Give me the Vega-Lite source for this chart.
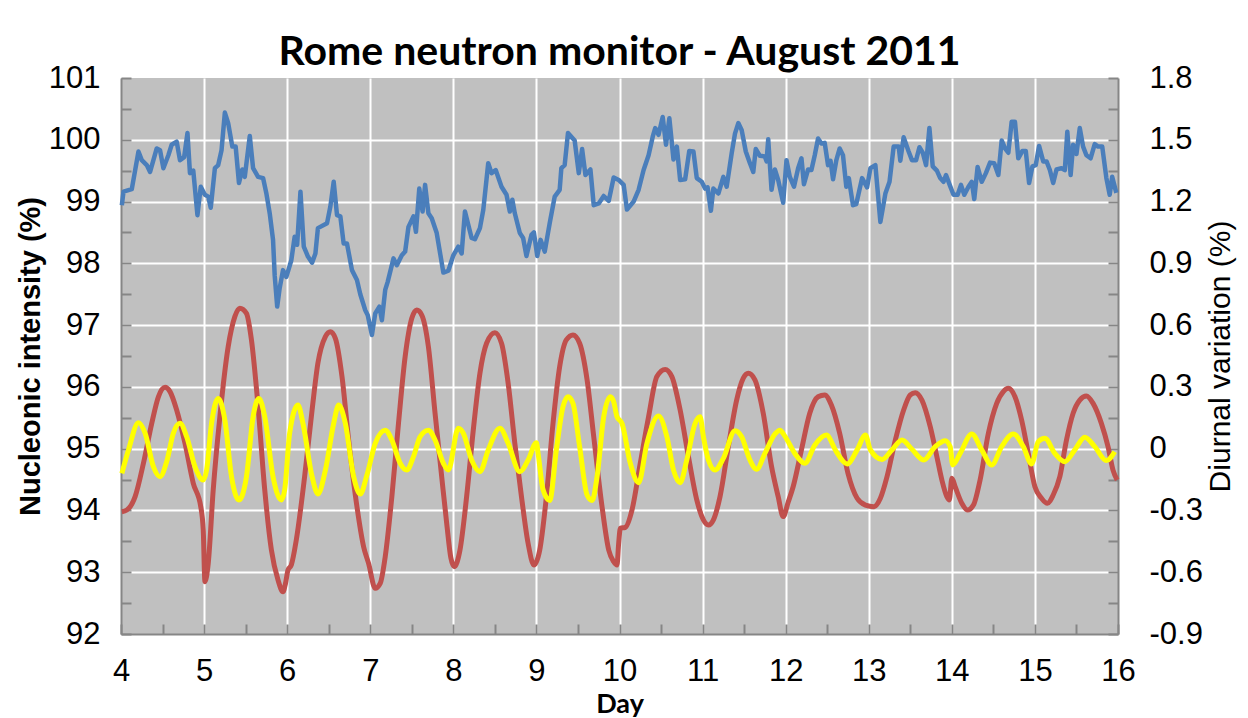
{
  "$schema": "https://vega.github.io/schema/vega-lite/v6.json",
  "width": 997,
  "height": 556,
  "autosize": {"type": "none"},
  "padding": {"left": 121, "top": 78, "right": 130, "bottom": 84},
  "background": "white",
  "config": {
    "view": {"fill": "#C0C0C0", "stroke": null},
    "axis": {"labelFont": "Liberation Sans", "labelColor": "black", "domainColor": "#868686", "domainWidth": 2, "tickColor": "#868686", "tickWidth": 2, "gridColor": "white", "gridWidth": 2, "labelOverlap": false, "labelFlush": false}
  },
  "title": {"text": "Rome neutron monitor - August 2011", "font": "Lato", "fontWeight": "bold", "fontSize": 41, "color": "black", "anchor": "middle", "frame": "group", "offset": 4, "dy": 16},
  "data": {"values": [
{"s":"b","d":4.01,"v":98.94},{"s":"b","d":4.03,"v":99.16},{"s":"b","d":4.13,"v":99.2},{"s":"b","d":4.21,"v":99.81},{"s":"b","d":4.25,"v":99.67},{"s":"b","d":4.31,"v":99.59},{"s":"b","d":4.35,"v":99.48},{"s":"b","d":4.43,"v":99.86},{"s":"b","d":4.47,"v":99.83},{"s":"b","d":4.51,"v":99.54},{"s":"b","d":4.57,"v":99.75},{"s":"b","d":4.61,"v":99.92},{"s":"b","d":4.67,"v":99.97},{"s":"b","d":4.71,"v":99.67},{"s":"b","d":4.76,"v":99.72},{"s":"b","d":4.80,"v":100.11},{"s":"b","d":4.83,"v":99.46},{"s":"b","d":4.87,"v":99.5},{"s":"b","d":4.92,"v":98.78},{"s":"b","d":4.96,"v":99.24},{"s":"b","d":5.01,"v":99.11},{"s":"b","d":5.05,"v":99.08},{"s":"b","d":5.08,"v":98.9},{"s":"b","d":5.13,"v":99.54},{"s":"b","d":5.17,"v":99.59},{"s":"b","d":5.21,"v":99.83},{"s":"b","d":5.25,"v":100.44},{"s":"b","d":5.29,"v":100.27},{"s":"b","d":5.34,"v":99.89},{"s":"b","d":5.38,"v":99.89},{"s":"b","d":5.42,"v":99.3},{"s":"b","d":5.46,"v":99.52},{"s":"b","d":5.49,"v":99.4},{"s":"b","d":5.55,"v":100.06},{"s":"b","d":5.59,"v":99.54},{"s":"b","d":5.65,"v":99.4},{"s":"b","d":5.71,"v":99.38},{"s":"b","d":5.75,"v":99.13},{"s":"b","d":5.79,"v":98.81},{"s":"b","d":5.83,"v":98.38},{"s":"b","d":5.85,"v":97.8},{"s":"b","d":5.88,"v":97.3},{"s":"b","d":5.91,"v":97.6},{"s":"b","d":5.95,"v":97.89},{"s":"b","d":5.99,"v":97.78},{"s":"b","d":6.05,"v":98.05},{"s":"b","d":6.09,"v":98.43},{"s":"b","d":6.12,"v":98.3},{"s":"b","d":6.16,"v":99.16},{"s":"b","d":6.20,"v":98.27},{"s":"b","d":6.25,"v":98.11},{"s":"b","d":6.30,"v":98.01},{"s":"b","d":6.34,"v":98.16},{"s":"b","d":6.37,"v":98.57},{"s":"b","d":6.48,"v":98.65},{"s":"b","d":6.52,"v":98.92},{"s":"b","d":6.56,"v":99.32},{"s":"b","d":6.60,"v":98.78},{"s":"b","d":6.64,"v":98.76},{"s":"b","d":6.68,"v":98.32},{"s":"b","d":6.72,"v":98.32},{"s":"b","d":6.78,"v":97.89},{"s":"b","d":6.84,"v":97.73},{"s":"b","d":6.88,"v":97.5},{"s":"b","d":6.94,"v":97.24},{"s":"b","d":6.97,"v":97.16},{"s":"b","d":7.02,"v":96.84},{"s":"b","d":7.06,"v":97.19},{"s":"b","d":7.11,"v":97.3},{"s":"b","d":7.14,"v":97.08},{"s":"b","d":7.18,"v":97.57},{"s":"b","d":7.21,"v":97.7},{"s":"b","d":7.28,"v":98.08},{"s":"b","d":7.32,"v":97.97},{"s":"b","d":7.38,"v":98.13},{"s":"b","d":7.42,"v":98.19},{"s":"b","d":7.46,"v":98.59},{"s":"b","d":7.52,"v":98.76},{"s":"b","d":7.55,"v":98.51},{"s":"b","d":7.59,"v":99.21},{"s":"b","d":7.63,"v":98.84},{"s":"b","d":7.66,"v":99.27},{"s":"b","d":7.70,"v":98.81},{"s":"b","d":7.74,"v":98.73},{"s":"b","d":7.80,"v":98.49},{"s":"b","d":7.88,"v":97.85},{"s":"b","d":7.94,"v":97.88},{"s":"b","d":8.00,"v":98.13},{"s":"b","d":8.06,"v":98.27},{"s":"b","d":8.10,"v":98.16},{"s":"b","d":8.14,"v":98.84},{"s":"b","d":8.22,"v":98.41},{"s":"b","d":8.26,"v":98.39},{"s":"b","d":8.32,"v":98.57},{"s":"b","d":8.36,"v":98.86},{"s":"b","d":8.42,"v":99.62},{"s":"b","d":8.46,"v":99.46},{"s":"b","d":8.51,"v":99.51},{"s":"b","d":8.58,"v":99.24},{"s":"b","d":8.64,"v":99.11},{"s":"b","d":8.68,"v":98.84},{"s":"b","d":8.71,"v":99.03},{"s":"b","d":8.74,"v":98.81},{"s":"b","d":8.80,"v":98.49},{"s":"b","d":8.84,"v":98.41},{"s":"b","d":8.88,"v":98.12},{"s":"b","d":8.94,"v":98.46},{"s":"b","d":8.97,"v":98.5},{"s":"b","d":9.01,"v":98.12},{"s":"b","d":9.05,"v":98.38},{"s":"b","d":9.10,"v":98.19},{"s":"b","d":9.16,"v":98.65},{"s":"b","d":9.22,"v":99.08},{"s":"b","d":9.28,"v":99.19},{"s":"b","d":9.30,"v":99.54},{"s":"b","d":9.34,"v":99.59},{"s":"b","d":9.38,"v":100.11},{"s":"b","d":9.46,"v":99.99},{"s":"b","d":9.51,"v":99.46},{"s":"b","d":9.55,"v":99.85},{"s":"b","d":9.59,"v":99.43},{"s":"b","d":9.65,"v":99.52},{"s":"b","d":9.69,"v":98.94},{"s":"b","d":9.75,"v":98.97},{"s":"b","d":9.81,"v":99.09},{"s":"b","d":9.87,"v":99.01},{"s":"b","d":9.93,"v":99.39},{"s":"b","d":9.99,"v":99.35},{"s":"b","d":10.05,"v":99.27},{"s":"b","d":10.09,"v":98.87},{"s":"b","d":10.17,"v":99.0},{"s":"b","d":10.23,"v":99.19},{"s":"b","d":10.29,"v":99.51},{"s":"b","d":10.35,"v":99.75},{"s":"b","d":10.40,"v":100.05},{"s":"b","d":10.43,"v":100.19},{"s":"b","d":10.47,"v":100.08},{"s":"b","d":10.52,"v":100.37},{"s":"b","d":10.56,"v":99.92},{"s":"b","d":10.60,"v":100.35},{"s":"b","d":10.65,"v":99.68},{"s":"b","d":10.69,"v":99.89},{"s":"b","d":10.73,"v":99.35},{"s":"b","d":10.79,"v":99.36},{"s":"b","d":10.84,"v":99.82},{"s":"b","d":10.89,"v":99.81},{"s":"b","d":10.93,"v":99.38},{"s":"b","d":10.99,"v":99.32},{"s":"b","d":11.03,"v":99.21},{"s":"b","d":11.06,"v":99.23},{"s":"b","d":11.10,"v":98.85},{"s":"b","d":11.13,"v":99.21},{"s":"b","d":11.19,"v":99.13},{"s":"b","d":11.25,"v":99.4},{"s":"b","d":11.29,"v":99.24},{"s":"b","d":11.35,"v":99.78},{"s":"b","d":11.39,"v":100.1},{"s":"b","d":11.43,"v":100.27},{"s":"b","d":11.47,"v":100.16},{"s":"b","d":11.52,"v":99.81},{"s":"b","d":11.57,"v":99.62},{"s":"b","d":11.61,"v":99.48},{"s":"b","d":11.64,"v":99.85},{"s":"b","d":11.69,"v":99.74},{"s":"b","d":11.75,"v":99.73},{"s":"b","d":11.77,"v":99.65},{"s":"b","d":11.79,"v":100.01},{"s":"b","d":11.83,"v":99.19},{"s":"b","d":11.87,"v":99.52},{"s":"b","d":11.91,"v":99.35},{"s":"b","d":11.97,"v":98.98},{"s":"b","d":12.01,"v":99.67},{"s":"b","d":12.05,"v":99.4},{"s":"b","d":12.10,"v":99.24},{"s":"b","d":12.15,"v":99.54},{"s":"b","d":12.19,"v":99.7},{"s":"b","d":12.22,"v":99.28},{"s":"b","d":12.27,"v":99.52},{"s":"b","d":12.31,"v":99.51},{"s":"b","d":12.35,"v":99.75},{"s":"b","d":12.39,"v":100.02},{"s":"b","d":12.43,"v":99.94},{"s":"b","d":12.47,"v":99.95},{"s":"b","d":12.51,"v":99.59},{"s":"b","d":12.54,"v":99.66},{"s":"b","d":12.57,"v":99.36},{"s":"b","d":12.61,"v":99.67},{"s":"b","d":12.65,"v":99.86},{"s":"b","d":12.69,"v":99.75},{"s":"b","d":12.73,"v":99.24},{"s":"b","d":12.76,"v":99.38},{"s":"b","d":12.81,"v":98.94},{"s":"b","d":12.85,"v":98.96},{"s":"b","d":12.92,"v":99.38},{"s":"b","d":12.98,"v":99.23},{"s":"b","d":13.02,"v":99.54},{"s":"b","d":13.08,"v":99.59},{"s":"b","d":13.14,"v":98.67},{"s":"b","d":13.20,"v":99.13},{"s":"b","d":13.25,"v":99.32},{"s":"b","d":13.30,"v":99.89},{"s":"b","d":13.36,"v":99.89},{"s":"b","d":13.38,"v":99.66},{"s":"b","d":13.42,"v":100.04},{"s":"b","d":13.48,"v":99.81},{"s":"b","d":13.52,"v":99.67},{"s":"b","d":13.57,"v":99.67},{"s":"b","d":13.61,"v":99.88},{"s":"b","d":13.65,"v":99.79},{"s":"b","d":13.69,"v":99.59},{"s":"b","d":13.73,"v":100.19},{"s":"b","d":13.77,"v":99.57},{"s":"b","d":13.82,"v":99.5},{"s":"b","d":13.86,"v":99.38},{"s":"b","d":13.90,"v":99.32},{"s":"b","d":13.93,"v":99.43},{"s":"b","d":13.98,"v":99.25},{"s":"b","d":14.02,"v":99.11},{"s":"b","d":14.07,"v":99.11},{"s":"b","d":14.11,"v":99.27},{"s":"b","d":14.15,"v":99.11},{"s":"b","d":14.20,"v":99.24},{"s":"b","d":14.24,"v":99.32},{"s":"b","d":14.27,"v":99.04},{"s":"b","d":14.31,"v":99.56},{"s":"b","d":14.36,"v":99.32},{"s":"b","d":14.41,"v":99.46},{"s":"b","d":14.46,"v":99.63},{"s":"b","d":14.51,"v":99.62},{"s":"b","d":14.56,"v":99.43},{"s":"b","d":14.60,"v":99.99},{"s":"b","d":14.64,"v":99.86},{"s":"b","d":14.68,"v":99.79},{"s":"b","d":14.72,"v":100.29},{"s":"b","d":14.76,"v":100.29},{"s":"b","d":14.80,"v":99.7},{"s":"b","d":14.85,"v":99.82},{"s":"b","d":14.89,"v":99.82},{"s":"b","d":14.93,"v":99.3},{"s":"b","d":14.97,"v":99.57},{"s":"b","d":15.01,"v":99.59},{"s":"b","d":15.05,"v":99.9},{"s":"b","d":15.10,"v":99.65},{"s":"b","d":15.14,"v":99.65},{"s":"b","d":15.18,"v":99.51},{"s":"b","d":15.22,"v":99.3},{"s":"b","d":15.26,"v":99.52},{"s":"b","d":15.32,"v":99.54},{"s":"b","d":15.36,"v":99.51},{"s":"b","d":15.39,"v":100.13},{"s":"b","d":15.43,"v":99.43},{"s":"b","d":15.46,"v":99.92},{"s":"b","d":15.50,"v":99.77},{"s":"b","d":15.54,"v":100.19},{"s":"b","d":15.58,"v":99.89},{"s":"b","d":15.62,"v":99.75},{"s":"b","d":15.67,"v":99.7},{"s":"b","d":15.72,"v":99.93},{"s":"b","d":15.76,"v":99.89},{"s":"b","d":15.81,"v":99.89},{"s":"b","d":15.86,"v":99.38},{"s":"b","d":15.90,"v":99.11},{"s":"b","d":15.93,"v":99.4},{"s":"b","d":15.98,"v":99.14},
{"s":"r","d":4.01,"v":-0.306},{"s":"r","d":4.07,"v":-0.298},{"s":"r","d":4.17,"v":-0.233},{"s":"r","d":4.27,"v":-0.071},{"s":"r","d":4.37,"v":0.123},{"s":"r","d":4.45,"v":0.252},{"s":"r","d":4.53,"v":0.298},{"s":"r","d":4.59,"v":0.277},{"s":"r","d":4.67,"v":0.188},{"s":"r","d":4.77,"v":0.026},{"s":"r","d":4.87,"v":-0.168},{"s":"r","d":4.96,"v":-0.282},{"s":"r","d":4.99,"v":-0.395},{"s":"r","d":5.01,"v":-0.646},{"s":"r","d":5.05,"v":-0.557},{"s":"r","d":5.11,"v":-0.2},{"s":"r","d":5.19,"v":0.155},{"s":"r","d":5.29,"v":0.495},{"s":"r","d":5.37,"v":0.641},{"s":"r","d":5.43,"v":0.682},{"s":"r","d":5.51,"v":0.657},{"s":"r","d":5.57,"v":0.528},{"s":"r","d":5.65,"v":0.204},{"s":"r","d":5.73,"v":-0.2},{"s":"r","d":5.81,"v":-0.492},{"s":"r","d":5.89,"v":-0.638},{"s":"r","d":5.95,"v":-0.695},{"s":"r","d":5.98,"v":-0.654},{"s":"r","d":6.01,"v":-0.589},{"s":"r","d":6.05,"v":-0.565},{"s":"r","d":6.11,"v":-0.443},{"s":"r","d":6.21,"v":-0.136},{"s":"r","d":6.30,"v":0.188},{"s":"r","d":6.37,"v":0.415},{"s":"r","d":6.46,"v":0.544},{"s":"r","d":6.52,"v":0.568},{"s":"r","d":6.58,"v":0.536},{"s":"r","d":6.66,"v":0.35},{"s":"r","d":6.74,"v":0.042},{"s":"r","d":6.84,"v":-0.282},{"s":"r","d":6.92,"v":-0.476},{"s":"r","d":6.98,"v":-0.557},{"s":"r","d":7.06,"v":-0.678},{"s":"r","d":7.12,"v":-0.654},{"s":"r","d":7.18,"v":-0.525},{"s":"r","d":7.26,"v":-0.233},{"s":"r","d":7.34,"v":0.123},{"s":"r","d":7.42,"v":0.447},{"s":"r","d":7.50,"v":0.633},{"s":"r","d":7.56,"v":0.673},{"s":"r","d":7.62,"v":0.649},{"s":"r","d":7.70,"v":0.495},{"s":"r","d":7.78,"v":0.172},{"s":"r","d":7.86,"v":-0.136},{"s":"r","d":7.92,"v":-0.362},{"s":"r","d":7.97,"v":-0.53},{"s":"r","d":8.01,"v":-0.573},{"s":"r","d":8.08,"v":-0.492},{"s":"r","d":8.16,"v":-0.233},{"s":"r","d":8.24,"v":0.09},{"s":"r","d":8.32,"v":0.366},{"s":"r","d":8.40,"v":0.512},{"s":"r","d":8.50,"v":0.563},{"s":"r","d":8.58,"v":0.512},{"s":"r","d":8.66,"v":0.317},{"s":"r","d":8.74,"v":0.026},{"s":"r","d":8.82,"v":-0.233},{"s":"r","d":8.90,"v":-0.46},{"s":"r","d":8.97,"v":-0.565},{"s":"r","d":9.04,"v":-0.492},{"s":"r","d":9.12,"v":-0.233},{"s":"r","d":9.20,"v":0.123},{"s":"r","d":9.28,"v":0.398},{"s":"r","d":9.36,"v":0.528},{"s":"r","d":9.44,"v":0.552},{"s":"r","d":9.52,"v":0.512},{"s":"r","d":9.61,"v":0.334},{"s":"r","d":9.69,"v":0.058},{"s":"r","d":9.79,"v":-0.282},{"s":"r","d":9.87,"v":-0.492},{"s":"r","d":9.93,"v":-0.549},{"s":"r","d":9.97,"v":-0.565},{"s":"r","d":9.99,"v":-0.46},{"s":"r","d":10.01,"v":-0.387},{"s":"r","d":10.07,"v":-0.382},{"s":"r","d":10.15,"v":-0.298},{"s":"r","d":10.25,"v":-0.071},{"s":"r","d":10.35,"v":0.155},{"s":"r","d":10.45,"v":0.35},{"s":"r","d":10.55,"v":0.385},{"s":"r","d":10.63,"v":0.35},{"s":"r","d":10.73,"v":0.188},{"s":"r","d":10.83,"v":-0.039},{"s":"r","d":10.93,"v":-0.249},{"s":"r","d":11.01,"v":-0.346},{"s":"r","d":11.07,"v":-0.371},{"s":"r","d":11.13,"v":-0.346},{"s":"r","d":11.21,"v":-0.233},{"s":"r","d":11.31,"v":0.01},{"s":"r","d":11.41,"v":0.236},{"s":"r","d":11.49,"v":0.342},{"s":"r","d":11.55,"v":0.366},{"s":"r","d":11.63,"v":0.334},{"s":"r","d":11.73,"v":0.172},{"s":"r","d":11.83,"v":-0.087},{"s":"r","d":11.91,"v":-0.233},{"s":"r","d":11.97,"v":-0.33},{"s":"r","d":12.03,"v":-0.26},{"s":"r","d":12.09,"v":-0.185},{"s":"r","d":12.19,"v":-0.006},{"s":"r","d":12.29,"v":0.172},{"s":"r","d":12.39,"v":0.252},{"s":"r","d":12.47,"v":0.261},{"s":"r","d":12.55,"v":0.212},{"s":"r","d":12.65,"v":0.075},{"s":"r","d":12.75,"v":-0.12},{"s":"r","d":12.86,"v":-0.241},{"s":"r","d":12.96,"v":-0.274},{"s":"r","d":13.06,"v":-0.282},{"s":"r","d":13.14,"v":-0.241},{"s":"r","d":13.22,"v":-0.136},{"s":"r","d":13.32,"v":0.042},{"s":"r","d":13.42,"v":0.188},{"s":"r","d":13.50,"v":0.261},{"s":"r","d":13.56,"v":0.272},{"s":"r","d":13.64,"v":0.236},{"s":"r","d":13.74,"v":0.107},{"s":"r","d":13.82,"v":-0.039},{"s":"r","d":13.88,"v":-0.152},{"s":"r","d":13.94,"v":-0.233},{"s":"r","d":13.97,"v":-0.249},{"s":"r","d":14.00,"v":-0.144},{"s":"r","d":14.04,"v":-0.185},{"s":"r","d":14.12,"v":-0.265},{"s":"r","d":14.19,"v":-0.298},{"s":"r","d":14.26,"v":-0.274},{"s":"r","d":14.34,"v":-0.152},{"s":"r","d":14.44,"v":0.075},{"s":"r","d":14.54,"v":0.22},{"s":"r","d":14.62,"v":0.277},{"s":"r","d":14.68,"v":0.293},{"s":"r","d":14.76,"v":0.252},{"s":"r","d":14.84,"v":0.139},{"s":"r","d":14.92,"v":-0.023},{"s":"r","d":15.00,"v":-0.185},{"s":"r","d":15.08,"v":-0.241},{"s":"r","d":15.15,"v":-0.265},{"s":"r","d":15.22,"v":-0.225},{"s":"r","d":15.30,"v":-0.136},{"s":"r","d":15.38,"v":0.042},{"s":"r","d":15.46,"v":0.172},{"s":"r","d":15.54,"v":0.236},{"s":"r","d":15.62,"v":0.256},{"s":"r","d":15.70,"v":0.22},{"s":"r","d":15.80,"v":0.123},{"s":"r","d":15.88,"v":0.01},{"s":"r","d":15.94,"v":-0.104},{"s":"r","d":15.99,"v":-0.152},
{"s":"y","d":4.01,"v":-0.12},{"s":"y","d":4.09,"v":-0.006},{"s":"y","d":4.21,"v":0.126},{"s":"y","d":4.29,"v":0.075},{"s":"y","d":4.39,"v":-0.087},{"s":"y","d":4.47,"v":-0.136},{"s":"y","d":4.55,"v":-0.063},{"s":"y","d":4.63,"v":0.075},{"s":"y","d":4.71,"v":0.123},{"s":"y","d":4.79,"v":0.058},{"s":"y","d":4.89,"v":-0.087},{"s":"y","d":4.99,"v":-0.152},{"s":"y","d":5.03,"v":-0.104},{"s":"y","d":5.09,"v":0.123},{"s":"y","d":5.17,"v":0.244},{"s":"y","d":5.25,"v":0.139},{"s":"y","d":5.33,"v":-0.136},{"s":"y","d":5.42,"v":-0.249},{"s":"y","d":5.51,"v":-0.136},{"s":"y","d":5.59,"v":0.155},{"s":"y","d":5.66,"v":0.244},{"s":"y","d":5.73,"v":0.155},{"s":"y","d":5.83,"v":-0.136},{"s":"y","d":5.93,"v":-0.249},{"s":"y","d":5.97,"v":-0.2},{"s":"y","d":6.03,"v":0.075},{"s":"y","d":6.13,"v":0.212},{"s":"y","d":6.19,"v":0.123},{"s":"y","d":6.30,"v":-0.136},{"s":"y","d":6.37,"v":-0.22},{"s":"y","d":6.46,"v":-0.104},{"s":"y","d":6.56,"v":0.123},{"s":"y","d":6.62,"v":0.212},{"s":"y","d":6.70,"v":0.123},{"s":"y","d":6.80,"v":-0.136},{"s":"y","d":6.88,"v":-0.22},{"s":"y","d":6.96,"v":-0.128},{"s":"y","d":7.06,"v":0.026},{"s":"y","d":7.18,"v":0.09},{"s":"y","d":7.26,"v":0.042},{"s":"y","d":7.36,"v":-0.071},{"s":"y","d":7.44,"v":-0.104},{"s":"y","d":7.52,"v":-0.039},{"s":"y","d":7.60,"v":0.058},{"s":"y","d":7.70,"v":0.09},{"s":"y","d":7.78,"v":0.042},{"s":"y","d":7.88,"v":-0.071},{"s":"y","d":7.94,"v":-0.104},{"s":"y","d":8.06,"v":0.099},{"s":"y","d":8.12,"v":0.075},{"s":"y","d":8.22,"v":-0.055},{"s":"y","d":8.32,"v":-0.112},{"s":"y","d":8.42,"v":-0.006},{"s":"y","d":8.56,"v":0.099},{"s":"y","d":8.66,"v":0.026},{"s":"y","d":8.80,"v":-0.112},{"s":"y","d":8.90,"v":-0.055},{"s":"y","d":9.00,"v":0.029},{"s":"y","d":9.02,"v":-0.023},{"s":"y","d":9.08,"v":-0.2},{"s":"y","d":9.16,"v":-0.252},{"s":"y","d":9.24,"v":-0.006},{"s":"y","d":9.32,"v":0.204},{"s":"y","d":9.38,"v":0.252},{"s":"y","d":9.44,"v":0.22},{"s":"y","d":9.52,"v":0.01},{"s":"y","d":9.61,"v":-0.225},{"s":"y","d":9.67,"v":-0.252},{"s":"y","d":9.73,"v":-0.136},{"s":"y","d":9.81,"v":0.155},{"s":"y","d":9.89,"v":0.252},{"s":"y","d":9.93,"v":0.228},{"s":"y","d":9.97,"v":0.155},{"s":"y","d":10.03,"v":0.123},{"s":"y","d":10.13,"v":-0.071},{"s":"y","d":10.23,"v":-0.165},{"s":"y","d":10.33,"v":0.026},{"s":"y","d":10.47,"v":0.159},{"s":"y","d":10.57,"v":0.058},{"s":"y","d":10.65,"v":-0.104},{"s":"y","d":10.73,"v":-0.165},{"s":"y","d":10.81,"v":-0.055},{"s":"y","d":10.91,"v":0.123},{"s":"y","d":10.97,"v":0.155},{"s":"y","d":11.01,"v":0.058},{"s":"y","d":11.07,"v":-0.055},{"s":"y","d":11.15,"v":-0.104},{"s":"y","d":11.25,"v":-0.047},{"s":"y","d":11.39,"v":0.087},{"s":"y","d":11.47,"v":0.058},{"s":"y","d":11.57,"v":-0.055},{"s":"y","d":11.65,"v":-0.1},{"s":"y","d":11.75,"v":-0.023},{"s":"y","d":11.87,"v":0.071},{"s":"y","d":11.93,"v":0.09},{"s":"y","d":11.99,"v":0.061},{"s":"y","d":12.11,"v":-0.023},{"s":"y","d":12.23,"v":-0.071},{"s":"y","d":12.35,"v":0.017},{"s":"y","d":12.49,"v":0.066},{"s":"y","d":12.61,"v":-0.015},{"s":"y","d":12.74,"v":-0.074},{"s":"y","d":12.86,"v":-0.006},{"s":"y","d":12.96,"v":0.066},{"s":"y","d":13.02,"v":-0.006},{"s":"y","d":13.16,"v":-0.052},{"s":"y","d":13.28,"v":-0.006},{"s":"y","d":13.40,"v":0.042},{"s":"y","d":13.52,"v":-0.003},{"s":"y","d":13.66,"v":-0.055},{"s":"y","d":13.80,"v":0.01},{"s":"y","d":13.92,"v":0.039},{"s":"y","d":13.98,"v":0.01},{"s":"y","d":14.01,"v":-0.079},{"s":"y","d":14.10,"v":-0.023},{"s":"y","d":14.24,"v":0.071},{"s":"y","d":14.36,"v":-0.006},{"s":"y","d":14.48,"v":-0.079},{"s":"y","d":14.60,"v":0.01},{"s":"y","d":14.74,"v":0.071},{"s":"y","d":14.86,"v":0.01},{"s":"y","d":14.96,"v":-0.074},{"s":"y","d":15.04,"v":0.034},{"s":"y","d":15.12,"v":0.05},{"s":"y","d":15.24,"v":-0.023},{"s":"y","d":15.36,"v":-0.063},{"s":"y","d":15.48,"v":-0.006},{"s":"y","d":15.60,"v":0.056},{"s":"y","d":15.72,"v":0.01},{"s":"y","d":15.86,"v":-0.058},{"s":"y","d":15.96,"v":-0.015}
  ]},
  "encoding": {
    "x": {"field": "d", "type": "quantitative", "scale": {"domain": [4, 16], "nice": false, "zero": false},
      "axis": {"title": "Day", "titleFont": "Lato", "titleFontWeight": "bold", "titleFontSize": 27, "titleColor": "black", "titleBaseline": "alphabetic", "titleY": 78,
        "values": [4,4.5,5,5.5,6,6.5,7,7.5,8,8.5,9,9.5,10,10.5,11,11.5,12,12.5,13,13.5,14,14.5,15,15.5,16],
        "labelExpr": "datum.value % 1 === 0 ? format(datum.value, 'd') : ''", "labelFontSize": 31, "labelPadding": 32, "tickSize": -10,
        "grid": true, "gridOpacity": {"condition": {"test": "datum.value % 1 !== 0 || datum.value === 4 || datum.value === 16", "value": 0}, "value": 1}}}
  },
  "layer": [
    {
      "transform": [{"filter": "datum.s === 'b'"}],
      "mark": {"type": "line", "color": "#4A7EBB", "strokeWidth": 4.5, "strokeJoin": "round"},
      "encoding": {
        "y": {"field": "v", "type": "quantitative", "scale": {"domain": [92, 101], "nice": false, "zero": false},
          "axis": {"title": "Nucleonic intensity (%)", "titleFont": "Liberation Sans", "titleFontWeight": "bold", "titleFontSize": 29, "titleColor": "black", "titleX": -91, "titleBaseline": "middle", "titleAngle": 270,
            "values": [92,92.5,93,93.5,94,94.5,95,95.5,96,96.5,97,97.5,98,98.5,99,99.5,100,100.5,101],
            "labelExpr": "datum.value % 1 === 0 ? format(datum.value, 'd') : ''", "labelFontSize": 31, "labelPadding": 31, "tickSize": -10,
            "grid": true, "gridOpacity": {"condition": {"test": "datum.value % 1 !== 0 || datum.value === 92 || datum.value === 101", "value": 0}, "value": 1}}}
      }
    },
    {
      "encoding": {
        "y": {"field": "v", "type": "quantitative", "scale": {"domain": [-0.9, 1.8], "nice": false, "zero": false},
          "axis": {"orient": "right", "title": "Diurnal variation (%)", "titleFont": "Liberation Sans", "titleFontWeight": "normal", "titleFontSize": 30, "titleColor": "black", "titleX": 102, "titleBaseline": "middle", "titleAngle": 270,
            "values": [-0.9,-0.75,-0.6,-0.45,-0.3,-0.15,0,0.15,0.3,0.45,0.6,0.75,0.9,1.05,1.2,1.35,1.5,1.65,1.8],
            "labelExpr": "abs(round(datum.value*100)) % 30 === 0 ? (datum.value === 0 ? '0' : (datum.value < 0 ? '-' : '') + format(abs(datum.value), '.1f')) : ''",
            "labelFontSize": 31, "labelPadding": 41, "tickSize": -10, "grid": false}}
      },
      "layer": [
        {"transform": [{"filter": "datum.s === 'r'"}], "mark": {"type": "line", "color": "#C0504D", "strokeWidth": 5, "strokeJoin": "round", "interpolate": "monotone"}},
        {"transform": [{"filter": "datum.s === 'y'"}], "mark": {"type": "line", "color": "#FFFF00", "strokeWidth": 5, "strokeJoin": "round", "interpolate": "monotone"}}
      ]
    }
  ],
  "resolve": {"scale": {"y": "independent"}}
}
